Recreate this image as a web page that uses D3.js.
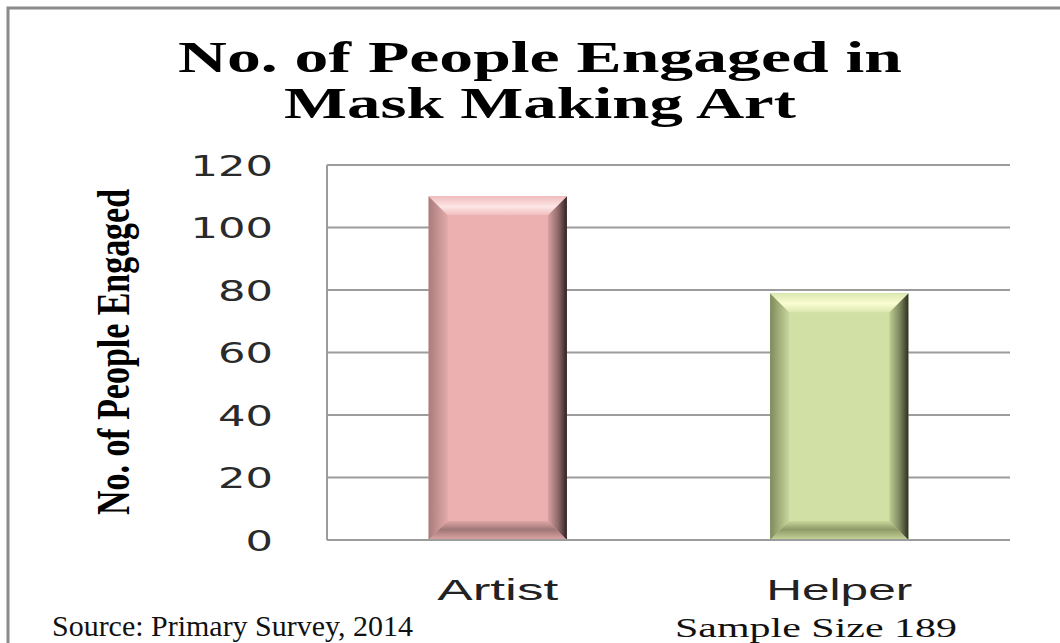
<!DOCTYPE html>
<html>
<head>
<meta charset="utf-8">
<script src="https://cdn.jsdelivr.net/npm/d3@7"></script>
<style>
  html, body { margin: 0; padding: 0; background: #fff; }
  svg { display: block; }
</style>
</head>
<body>
<svg id="chart" width="1060" height="643"></svg>
<script>
// Chart data
const categories = ["Artist", "Helper"];
const values = [110, 79];
const tickValues = [0, 20, 40, 60, 80, 100, 120];
const titleLines = ["No. of People Engaged in", "Mask Making Art"];
const yLabel = "No. of People Engaged";
const sourceNote = "Source: Primary Survey, 2014";
const sampleNote = "Sample Size 189";

// Bevel palettes per bar
const palettes = [
  { face: "#ecb0b0", topHi: "#fde6e6", topLo: "#f0bcbc", leftEdge: "#a97c7c", leftIn: "#e2a9a9", rightIn: "#d9a2a2", rightEdge: "#2f2121", botIn: "#a07676", botEdge: "#e0a6a6" },
  { face: "#d1e0a4", topHi: "#fbfdd2", topLo: "#dbe8b0", leftEdge: "#7f8a5c", leftIn: "#c8d69c", rightIn: "#bfcc92", rightEdge: "#2b3020", botIn: "#8f9a68", botEdge: "#c8d69a" }
];

const svg = d3.select("#chart");
const W = 1060, H = 643;

svg.append("rect").attr("width", W).attr("height", H).attr("fill", "#fff");

// Outer chart frame
svg.append("path")
  .attr("d", `M8,${H + 5} L8,8 L${W + 5},8`)
  .attr("fill", "none")
  .attr("stroke", "#8a8a8a")
  .attr("stroke-width", 3);

const plot = { left: 327, right: 1010, top: 165, bottom: 540 };

const x = d3.scaleBand()
  .domain(categories)
  .range([plot.left, plot.right])
  .paddingInner(0.595)
  .paddingOuter(0.2975);

const y = d3.scaleLinear()
  .domain([0, 120])
  .range([plot.bottom, plot.top]);

// Gridlines
svg.append("g").selectAll("line")
  .data(tickValues)
  .join("line")
  .attr("x1", plot.left)
  .attr("x2", plot.right)
  .attr("y1", d => y(d))
  .attr("y2", d => y(d))
  .attr("stroke", "#9c9c9c")
  .attr("stroke-width", 2);

// Y axis line
svg.append("line")
  .attr("x1", plot.left).attr("x2", plot.left)
  .attr("y1", plot.top).attr("y2", plot.bottom)
  .attr("stroke", "#9c9c9c").attr("stroke-width", 2);

// Y tick labels (wide, stretched sans)
const yAxis = d3.axisLeft(y).tickValues(tickValues).tickSize(0).tickPadding(0);
const yg = svg.append("g")
  .attr("transform", `translate(273,0)`)
  .call(yAxis);
yg.select(".domain").remove();
yg.selectAll(".tick text")
  .attr("font-family", "DejaVu Sans")
  .attr("font-size", 28)
  .attr("fill", "#2a2a2a")
  .attr("dy", "0.36em")
  .attr("textLength", d => String(d).length * 27.5)
  .attr("lengthAdjust", "spacingAndGlyphs");

// Gradient definitions for bevelled bars
const defs = svg.append("defs");
palettes.forEach((p, i) => {
  const lg = defs.append("linearGradient").attr("id", `left${i}`).attr("x1", 0).attr("x2", 1).attr("y1", 0).attr("y2", 0);
  lg.append("stop").attr("offset", "0%").attr("stop-color", p.leftEdge);
  lg.append("stop").attr("offset", "100%").attr("stop-color", p.leftIn);
  const rg = defs.append("linearGradient").attr("id", `right${i}`).attr("x1", 0).attr("x2", 1).attr("y1", 0).attr("y2", 0);
  rg.append("stop").attr("offset", "0%").attr("stop-color", p.rightIn);
  rg.append("stop").attr("offset", "55%").attr("stop-color", d3.interpolateRgb(p.rightIn, p.rightEdge)(0.45));
  rg.append("stop").attr("offset", "100%").attr("stop-color", p.rightEdge);
  const tg = defs.append("linearGradient").attr("id", `top${i}`).attr("x1", 0).attr("x2", 0).attr("y1", 0).attr("y2", 1);
  tg.append("stop").attr("offset", "0%").attr("stop-color", p.topLo);
  tg.append("stop").attr("offset", "55%").attr("stop-color", p.topHi);
  tg.append("stop").attr("offset", "100%").attr("stop-color", p.topLo);
  const bg = defs.append("linearGradient").attr("id", `bot${i}`).attr("x1", 0).attr("x2", 0).attr("y1", 0).attr("y2", 1);
  bg.append("stop").attr("offset", "0%").attr("stop-color", p.botEdge);
  bg.append("stop").attr("offset", "45%").attr("stop-color", p.botIn);
  bg.append("stop").attr("offset", "100%").attr("stop-color", p.botEdge);
  const fg = defs.append("linearGradient").attr("id", `face${i}`).attr("x1", 0).attr("x2", 1).attr("y1", 0).attr("y2", 0);
  fg.append("stop").attr("offset", "0%").attr("stop-color", d3.color(p.face).darker(0.15));
  fg.append("stop").attr("offset", "15%").attr("stop-color", p.face);
  fg.append("stop").attr("offset", "85%").attr("stop-color", p.face);
  fg.append("stop").attr("offset", "100%").attr("stop-color", d3.color(p.face).darker(0.2));
});

// Bars
const bev = 19;
const bars = svg.append("g");
categories.forEach((c, i) => {
  const x0 = x(c), x1 = x(c) + x.bandwidth();
  const y0 = y(values[i]), y1 = y(0);
  const g = bars.append("g");
  g.append("rect")
    .attr("x", x0).attr("y", y0)
    .attr("width", x1 - x0).attr("height", y1 - y0)
    .attr("fill", `url(#face${i})`);
  // left bevel
  g.append("path")
    .attr("d", `M${x0},${y0} L${x0 + bev},${y0 + bev} L${x0 + bev},${y1 - bev} L${x0},${y1} Z`)
    .attr("fill", `url(#left${i})`);
  // right bevel
  g.append("path")
    .attr("d", `M${x1},${y0} L${x1 - bev},${y0 + bev} L${x1 - bev},${y1 - bev} L${x1},${y1} Z`)
    .attr("fill", `url(#right${i})`);
  // top bevel
  g.append("path")
    .attr("d", `M${x0},${y0} L${x1},${y0} L${x1 - bev},${y0 + bev} L${x0 + bev},${y0 + bev} Z`)
    .attr("fill", `url(#top${i})`);
  // bottom bevel
  g.append("path")
    .attr("d", `M${x0},${y1} L${x1},${y1} L${x1 - bev},${y1 - bev} L${x0 + bev},${y1 - bev} Z`)
    .attr("fill", `url(#bot${i})`);
});

// Baseline over bar bottoms
svg.append("line")
  .attr("x1", plot.left).attr("x2", plot.right)
  .attr("y1", y(0)).attr("y2", y(0))
  .attr("stroke", "#9c9c9c").attr("stroke-width", 2);

// Category labels
svg.append("g").selectAll("text")
  .data(categories)
  .join("text")
  .attr("x", d => x(d) + x.bandwidth() / 2)
  .attr("y", 600)
  .attr("text-anchor", "middle")
  .attr("font-family", "Liberation Sans")
  .attr("font-size", 30)
  .attr("fill", "#222")
  .attr("textLength", d => d === "Artist" ? 121 : 146)
  .attr("lengthAdjust", "spacingAndGlyphs")
  .text(d => d);

// Title
const titleWidths = [724, 512];
svg.append("g").selectAll("text")
  .data(titleLines)
  .join("text")
  .attr("x", 540)
  .attr("y", (d, i) => 72 + i * 46)
  .attr("text-anchor", "middle")
  .attr("font-family", "Liberation Serif")
  .attr("font-weight", "bold")
  .attr("font-size", 45)
  .attr("fill", "#000")
  .attr("textLength", (d, i) => titleWidths[i])
  .attr("lengthAdjust", "spacingAndGlyphs")
  .text(d => d);

// Y axis title (condensed serif, rotated)
svg.append("text")
  .attr("transform", `translate(129,352) rotate(-90)`)
  .attr("text-anchor", "middle")
  .attr("font-family", "Liberation Serif")
  .attr("font-weight", "bold")
  .attr("font-size", 46)
  .attr("fill", "#000")
  .attr("textLength", 326)
  .attr("lengthAdjust", "spacingAndGlyphs")
  .text(yLabel);

// Footnotes
svg.append("text")
  .attr("x", 52).attr("y", 636)
  .attr("font-family", "Liberation Serif")
  .attr("font-size", 29)
  .attr("fill", "#111")
  .attr("textLength", 361)
  .attr("lengthAdjust", "spacingAndGlyphs")
  .text(sourceNote);

svg.append("text")
  .attr("x", 675).attr("y", 637)
  .attr("font-family", "Liberation Serif")
  .attr("font-size", 27)
  .attr("fill", "#111")
  .attr("textLength", 282)
  .attr("lengthAdjust", "spacingAndGlyphs")
  .text(sampleNote);
</script>
</body>
</html>
